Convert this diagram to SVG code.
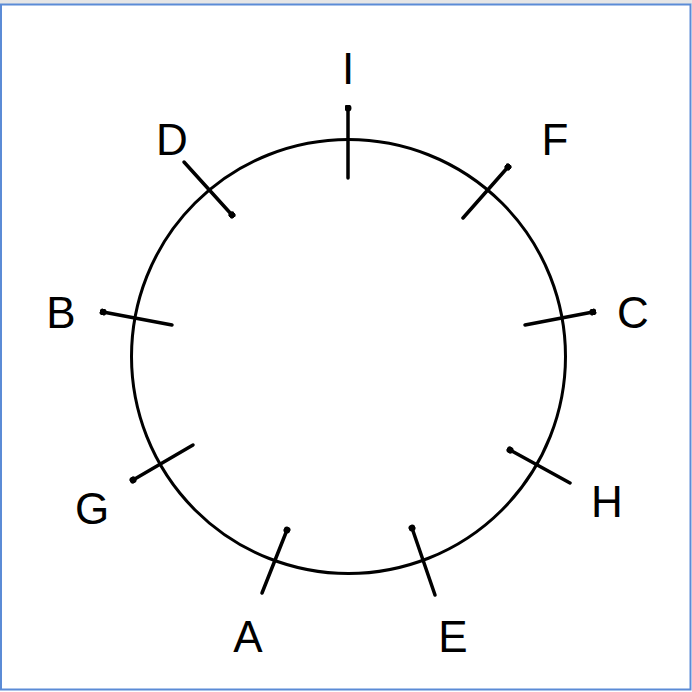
<svg xmlns="http://www.w3.org/2000/svg" width="692" height="692" viewBox="0 0 692 692">
<style>
.lbl{font-family:"Liberation Sans",Arial,sans-serif;font-size:44px;fill:#000;text-anchor:middle}
.tick{stroke:#000;stroke-width:3.5;stroke-linecap:round;fill:none;marker-end:url(#dot)}
</style>
<defs>
<marker id="dot" viewBox="0 0 10 10" refX="5" refY="5" markerWidth="2" markerHeight="2" orient="auto">
<circle cx="5" cy="5" r="5" fill="#000"/>
</marker>
</defs>
<rect x="0" y="0" width="692" height="4" fill="#e6e6e6"/>
<rect x="1" y="4.5" width="689.5" height="685" fill="#fff" stroke="#5b8bd6" stroke-width="2"/>
<g id="ring"><circle cx="348.5" cy="356.5" r="217" fill="none" stroke="#000" stroke-width="3"/></g>
<g id="connectors">
<line class="tick" x1="348" y1="178" x2="348" y2="108"/>
<line class="tick" x1="463" y1="218" x2="508" y2="167"/>
<line class="tick" x1="525" y1="325" x2="593" y2="312"/>
<line class="tick" x1="570" y1="483" x2="510" y2="450"/>
<line class="tick" x1="435" y1="595" x2="412" y2="528"/>
<line class="tick" x1="262" y1="593" x2="287" y2="530"/>
<line class="tick" x1="193" y1="445" x2="133" y2="480"/>
<line class="tick" x1="172" y1="325" x2="103" y2="312"/>
<line class="tick" x1="184" y1="162" x2="232" y2="215"/>
</g>
<g id="I"><text class="lbl" x="348" y="84">I</text></g>
<g id="D"><text class="lbl" x="172" y="155">D</text></g>
<g id="F"><text class="lbl" x="555" y="155">F</text></g>
<g id="B"><text class="lbl" x="61" y="328">B</text></g>
<g id="C"><text class="lbl" x="633" y="328">C</text></g>
<g id="G"><text class="lbl" x="92" y="524">G</text></g>
<g id="H"><text class="lbl" x="607" y="517">H</text></g>
<g id="A"><text class="lbl" x="248" y="652">A</text></g>
<g id="E"><text class="lbl" x="453" y="652">E</text></g>
</svg>
